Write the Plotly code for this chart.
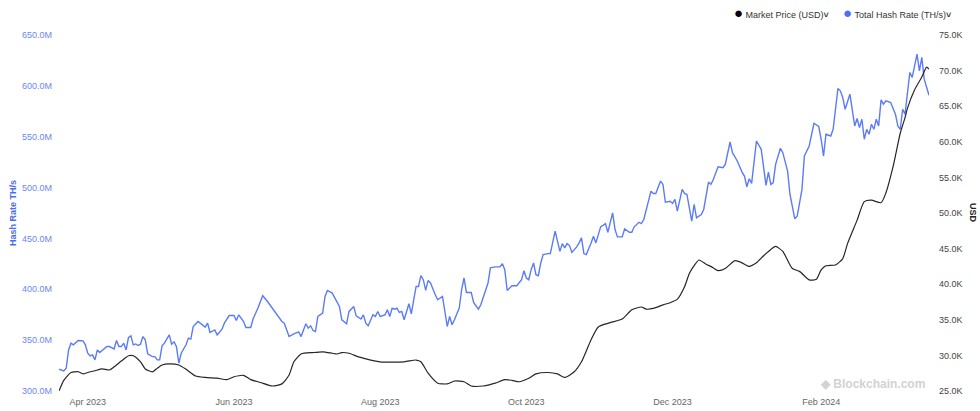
import plotly.graph_objects as go

# ---- data ----
hash_dates = [
    "2023-03-20", "2023-03-22", "2023-03-23", "2023-03-24", "2023-03-25", "2023-03-26", "2023-03-28",
    "2023-03-30", "2023-03-31", "2023-04-01", "2023-04-02", "2023-04-03", "2023-04-04", "2023-04-05",
    "2023-04-06", "2023-04-07", "2023-04-09", "2023-04-10", "2023-04-12", "2023-04-13", "2023-04-14",
    "2023-04-15", "2023-04-16", "2023-04-17", "2023-04-18", "2023-04-19", "2023-04-20", "2023-04-21",
    "2023-04-22", "2023-04-23", "2023-04-24", "2023-04-25", "2023-04-26", "2023-04-28", "2023-04-29",
    "2023-04-30", "2023-05-01", "2023-05-02", "2023-05-03", "2023-05-05", "2023-05-06", "2023-05-07",
    "2023-05-08", "2023-05-09", "2023-05-10", "2023-05-12", "2023-05-13", "2023-05-14", "2023-05-15",
    "2023-05-17", "2023-05-19", "2023-05-20", "2023-05-21", "2023-05-22", "2023-05-24", "2023-05-25",
    "2023-05-27", "2023-05-28", "2023-05-30", "2023-06-01", "2023-06-02", "2023-06-03", "2023-06-05",
    "2023-06-06", "2023-06-08", "2023-06-09", "2023-06-11", "2023-06-13", "2023-06-15", "2023-06-18",
    "2023-06-21", "2023-06-22", "2023-06-24", "2023-06-26", "2023-06-28", "2023-06-29", "2023-07-01",
    "2023-07-02", "2023-07-03", "2023-07-04", "2023-07-05", "2023-07-06", "2023-07-08", "2023-07-09",
    "2023-07-10", "2023-07-12", "2023-07-15", "2023-07-16", "2023-07-18", "2023-07-19", "2023-07-21",
    "2023-07-22", "2023-07-24", "2023-07-25", "2023-07-26", "2023-07-27", "2023-07-29", "2023-07-30",
    "2023-07-31", "2023-08-01", "2023-08-03", "2023-08-04", "2023-08-05", "2023-08-06", "2023-08-07",
    "2023-08-08", "2023-08-09", "2023-08-10", "2023-08-11", "2023-08-13", "2023-08-14", "2023-08-15",
    "2023-08-16", "2023-08-17", "2023-08-18", "2023-08-19", "2023-08-20", "2023-08-21", "2023-08-22",
    "2023-08-24", "2023-08-25", "2023-08-27", "2023-08-28", "2023-08-29", "2023-08-30", "2023-08-31",
    "2023-09-01", "2023-09-03", "2023-09-04", "2023-09-05", "2023-09-06", "2023-09-08", "2023-09-09",
    "2023-09-11", "2023-09-12", "2023-09-14", "2023-09-15", "2023-09-16", "2023-09-18", "2023-09-20",
    "2023-09-21", "2023-09-22", "2023-09-23", "2023-09-25", "2023-09-27", "2023-09-29", "2023-09-30",
    "2023-10-01", "2023-10-02", "2023-10-03", "2023-10-04", "2023-10-05", "2023-10-06", "2023-10-07",
    "2023-10-08", "2023-10-10", "2023-10-11", "2023-10-13", "2023-10-15", "2023-10-16", "2023-10-17",
    "2023-10-18", "2023-10-19", "2023-10-20", "2023-10-22", "2023-10-23", "2023-10-24", "2023-10-25",
    "2023-10-26", "2023-10-28", "2023-10-29", "2023-10-30", "2023-11-01", "2023-11-03", "2023-11-04",
    "2023-11-06", "2023-11-07", "2023-11-08", "2023-11-10", "2023-11-11", "2023-11-13", "2023-11-14",
    "2023-11-15", "2023-11-17", "2023-11-18", "2023-11-19", "2023-11-22", "2023-11-23", "2023-11-24",
    "2023-11-26", "2023-11-27", "2023-11-28", "2023-11-30", "2023-12-01", "2023-12-02", "2023-12-03",
    "2023-12-05", "2023-12-06", "2023-12-07", "2023-12-09", "2023-12-10", "2023-12-11", "2023-12-13",
    "2023-12-14", "2023-12-16", "2023-12-17", "2023-12-18", "2023-12-20", "2023-12-22", "2023-12-23",
    "2023-12-25", "2023-12-26", "2023-12-28", "2023-12-30", "2023-12-31", "2024-01-01", "2024-01-02",
    "2024-01-03", "2024-01-05", "2024-01-07", "2024-01-08", "2024-01-09", "2024-01-10", "2024-01-11",
    "2024-01-12", "2024-01-13", "2024-01-15", "2024-01-16", "2024-01-18", "2024-01-19", "2024-01-21",
    "2024-01-22", "2024-01-24", "2024-01-25", "2024-01-27", "2024-01-29", "2024-01-31", "2024-02-01",
    "2024-02-02", "2024-02-03", "2024-02-05", "2024-02-06", "2024-02-08", "2024-02-09", "2024-02-10",
    "2024-02-11", "2024-02-13", "2024-02-14", "2024-02-15", "2024-02-16", "2024-02-17", "2024-02-18",
    "2024-02-19", "2024-02-20", "2024-02-21", "2024-02-22", "2024-02-23", "2024-02-24", "2024-02-25",
    "2024-02-26", "2024-02-27", "2024-02-28", "2024-03-01", "2024-03-03", "2024-03-04", "2024-03-05",
    "2024-03-06", "2024-03-07", "2024-03-08", "2024-03-09", "2024-03-10", "2024-03-12", "2024-03-13",
    "2024-03-14", "2024-03-15", "2024-03-17",
]
hash_rate_M = [
    321.4, 319.7, 322.4, 340.4, 347.0, 345.4, 349.6,
    349.3, 345.4, 337.2, 334.5, 335.5, 330.6, 340.4,
    337.8, 339.7, 343.7, 343.7, 341.4, 349.6, 343.7,
    343.7, 347.0, 340.4, 352.6, 354.2, 345.4, 346.3,
    344.7, 346.0, 353.5, 350.3, 336.5, 333.8, 333.8,
    330.6, 330.6, 344.4, 347.0, 355.2, 346.0, 348.3,
    343.7, 327.3, 337.2, 345.4, 352.0, 351.0, 363.4,
    368.3, 364.1, 362.8, 366.7, 357.5, 360.1, 355.2,
    360.8, 366.7, 374.2, 374.2, 369.3, 374.9, 368.3,
    362.4, 362.4, 371.0, 381.5, 393.7, 388.0, 378.2,
    368.3, 366.7, 353.5, 356.2, 358.2, 353.5, 366.1,
    361.8, 364.1, 359.5, 358.5, 373.3, 376.6, 393.0,
    398.9, 396.3, 383.1, 370.0, 366.1, 378.2, 383.0,
    373.9, 370.7, 374.9, 366.7, 364.1, 374.9, 373.3,
    378.2, 373.3, 374.9, 379.9, 373.3, 381.5, 380.5,
    381.5, 377.2, 378.2, 370.0, 385.8, 375.9, 389.7,
    402.8, 402.8, 413.4, 409.4, 398.9, 408.7, 406.2,
    394.6, 389.7, 393.0, 376.6, 363.4, 373.3, 365.1,
    370.0, 381.5, 399.6, 411.1, 396.9, 396.9, 387.1,
    380.5, 384.8, 397.9, 406.2, 421.0, 422.0, 422.0,
    425.2, 419.3, 398.9, 403.5, 403.5, 409.4, 418.3,
    411.1, 409.4, 419.3, 425.9, 414.4, 413.4, 425.9,
    434.1, 435.1, 435.1, 457.1, 437.3, 444.9, 440.7,
    444.9, 443.0, 436.3, 441.7, 445.6, 450.5, 435.1,
    434.1, 445.6, 452.1, 445.6, 461.4, 464.6, 456.1,
    475.2, 458.7, 451.5, 451.5, 459.4, 456.1, 456.1,
    461.4, 465.9, 464.6, 468.6, 496.5, 494.2, 494.2,
    506.4, 503.1, 485.6, 486.6, 484.4, 488.3, 476.8,
    498.2, 494.2, 493.2, 466.9, 483.4, 470.3, 473.5,
    478.5, 505.4, 503.1, 508.0, 520.5, 519.6, 522.8,
    544.8, 534.3, 526.1, 515.2, 511.3, 500.8, 508.7,
    504.1, 545.8, 537.6, 519.6, 502.1, 515.2, 503.1,
    504.8, 522.8, 538.6, 534.3, 516.2, 493.2, 469.3,
    471.8, 498.2, 531.0, 540.9, 563.2, 560.0, 547.5,
    531.0, 552.4, 550.7, 557.3, 597.4, 595.1, 588.6,
    577.0, 591.8, 575.4, 560.6, 567.9, 559.0, 567.2,
    547.5, 557.3, 552.4, 562.3, 557.3, 567.2, 560.6,
    586.2, 582.0, 585.2, 583.6, 572.1, 560.6, 557.3,
    577.0, 572.1, 593.5, 613.2, 608.3, 631.3, 614.8,
    628.0, 606.6, 590.8,
]

price_dates = [
    "2023-03-20", "2023-03-22", "2023-03-25", "2023-03-28", "2023-03-30", "2023-04-01", "2023-04-04",
    "2023-04-07", "2023-04-10", "2023-04-12", "2023-04-15", "2023-04-18", "2023-04-20", "2023-04-23",
    "2023-04-25", "2023-04-28", "2023-04-30", "2023-05-02", "2023-05-05", "2023-05-09", "2023-05-12",
    "2023-05-16", "2023-05-20", "2023-05-25", "2023-05-29", "2023-06-01", "2023-06-05", "2023-06-08",
    "2023-06-12", "2023-06-17", "2023-06-21", "2023-06-24", "2023-06-26", "2023-06-29", "2023-07-04",
    "2023-07-08", "2023-07-12", "2023-07-14", "2023-07-16", "2023-07-19", "2023-07-23", "2023-08-01",
    "2023-08-11", "2023-08-16", "2023-08-18", "2023-08-21", "2023-08-25", "2023-08-29", "2023-09-01",
    "2023-09-05", "2023-09-08", "2023-09-13", "2023-09-18", "2023-09-22", "2023-09-25", "2023-09-28",
    "2023-10-02", "2023-10-05", "2023-10-10", "2023-10-14", "2023-10-17", "2023-10-21", "2023-10-24",
    "2023-10-28", "2023-10-31", "2023-11-05", "2023-11-10", "2023-11-14", "2023-11-18", "2023-11-20",
    "2023-11-23", "2023-11-27", "2023-11-30", "2023-12-03", "2023-12-06", "2023-12-08", "2023-12-10",
    "2023-12-12", "2023-12-15", "2023-12-17", "2023-12-20", "2023-12-23", "2023-12-27", "2023-12-30",
    "2024-01-02", "2024-01-05", "2024-01-08", "2024-01-10", "2024-01-13", "2024-01-16", "2024-01-20",
    "2024-01-23", "2024-01-27", "2024-01-30", "2024-02-01", "2024-02-03", "2024-02-07", "2024-02-10",
    "2024-02-12", "2024-02-16", "2024-02-19", "2024-02-22", "2024-02-26", "2024-02-28", "2024-03-02",
    "2024-03-05", "2024-03-07", "2024-03-08", "2024-03-11", "2024-03-14", "2024-03-16", "2024-03-17",
]
price_K = [
    25.0, 26.5, 27.6, 27.7, 27.4, 27.6, 27.85,
    28.1, 27.95, 28.4, 29.2, 29.95, 29.95, 29.1,
    28.1, 27.7, 28.2, 28.65, 28.8, 28.65, 28.05,
    27.1, 26.9, 26.8, 26.6, 27.0, 27.2, 26.6,
    26.2, 25.7, 26.0, 27.25, 29.1, 30.2, 30.4,
    30.5, 30.3, 30.2, 30.4, 30.3, 29.8, 29.1,
    29.1, 29.35, 29.1, 27.5, 26.1, 26.0, 26.4,
    26.3, 25.7, 25.7, 26.1, 26.6, 26.5, 26.3,
    26.8, 27.4, 27.6, 27.4, 26.9, 27.7, 29.1,
    32.2, 34.0, 34.6, 35.1, 36.4, 36.8, 36.5,
    36.6, 37.1, 37.4, 37.9, 39.65, 41.5, 42.6,
    43.4, 42.8, 42.5, 41.9, 42.2, 43.3, 43.0,
    42.5, 43.0, 44.0, 44.6, 45.3, 44.6, 42.2,
    41.8, 40.6, 40.7, 42.0, 42.6, 42.7, 43.6,
    45.7, 49.0, 51.6, 51.8, 51.45, 52.8, 56.5,
    61.2, 63.4, 64.7, 67.3, 69.1, 70.5, 70.2,
]

left_tick_values = [300, 350, 400, 450, 500, 550, 600, 650]
left_tick_labels = ["300.0M", "350.0M", "400.0M", "450.0M", "500.0M", "550.0M", "600.0M", "650.0M"]
right_tick_values = [25, 30, 35, 40, 45, 50, 55, 60, 65, 70, 75]
right_tick_labels = ["25.0K", "30.0K", "35.0K", "40.0K", "45.0K", "50.0K",
                     "55.0K", "60.0K", "65.0K", "70.0K", "75.0K"]
x_tick_dates = ["2023-04-01", "2023-06-01", "2023-08-01", "2023-10-01", "2023-12-01", "2024-02-01"]
x_tick_labels = ["Apr 2023", "Jun 2023", "Aug 2023", "Oct 2023", "Dec 2023", "Feb 2024"]

HASH_COLOR = "#5b7bf7"
PRICE_COLOR = "#262626"
FONT = "Liberation Sans, Arial, sans-serif"

fig = go.Figure()
fig.add_trace(go.Scatter(
    x=hash_dates, y=hash_rate_M, mode="lines", name="Total Hash Rate (TH/s)",
    line=dict(color=HASH_COLOR, width=1.4), yaxis="y", showlegend=False,
))
fig.add_trace(go.Scatter(
    x=price_dates, y=price_K, mode="lines", name="Market Price (USD)",
    line=dict(color=PRICE_COLOR, width=1.2, shape="spline", smoothing=0.6),
    yaxis="y2", showlegend=False,
))

W, H = 980, 411
L, R, T, B = 59, 51, 35, 20
pw = W - L - R
ph = H - T - B


def px_x(p):
    return (p - L) / pw


def px_y(p):
    return (H - B - p) / ph


fig.update_layout(
    width=W, height=H,
    margin=dict(l=L, r=R, t=T, b=B, pad=0),
    paper_bgcolor="white", plot_bgcolor="white",
    font=dict(family=FONT, size=9, color="#444"),
    xaxis=dict(
        type="date", range=["2023-03-20", "2024-03-17"],
        tickvals=x_tick_dates, ticktext=x_tick_labels,
        showgrid=False, zeroline=False, showline=False, ticks="",
        tickfont=dict(size=9, color="#666"), ticklabelstandoff=4,
        automargin=False,
    ),
    yaxis=dict(
        range=[300, 650], tickvals=left_tick_values, ticktext=left_tick_labels,
        showgrid=False, zeroline=False, showline=False, ticks="",
        tickfont=dict(size=9, color="#6a86f5"), ticklabelstandoff=6,
        automargin=False,
    ),
    yaxis2=dict(
        overlaying="y", side="right",
        range=[25, 75], tickvals=right_tick_values, ticktext=right_tick_labels,
        showgrid=False, zeroline=False, showline=False, ticks="",
        tickfont=dict(size=9, color="#444"), ticklabelstandoff=9,
        automargin=False,
    ),
    showlegend=False,
)

annotations = [
    # axis titles
    dict(text="<b>Hash Rate TH/s</b>", x=px_x(13), y=0.5, xref="paper", yref="paper",
         textangle=-90, showarrow=False, font=dict(size=9, color="#4a6cf0", family=FONT),
         xanchor="center", yanchor="middle"),
    dict(text="<b>USD</b>", x=px_x(973), y=0.5, xref="paper", yref="paper",
         textangle=90, showarrow=False, font=dict(size=9, color="#222", family=FONT),
         xanchor="center", yanchor="middle"),
    # legend
    dict(text='<span style="font-size:15px;color:#000">●</span> Market Price (USD)<b>˅</b>',
         x=px_x(732), y=px_y(13), xref="paper", yref="paper", showarrow=False,
         xanchor="left", yanchor="middle", font=dict(size=9, color="#333", family=FONT)),
    dict(text='<span style="font-size:15px;color:#4f6ff0">●</span> Total Hash Rate (TH/s)<b>˅</b>',
         x=px_x(841), y=px_y(13), xref="paper", yref="paper", showarrow=False,
         xanchor="left", yanchor="middle", font=dict(size=9, color="#333", family=FONT)),
    # watermark
    dict(text="<b>◆ Blockchain.com</b>", x=px_x(927), y=px_y(384), xref="paper", yref="paper",
         showarrow=False, xanchor="right", yanchor="middle",
         font=dict(size=12, color="#d2d2d2", family=FONT)),
]
fig.update_layout(annotations=annotations)

fig.write_html(
    "out.html",
    config={"displayModeBar": False},
    post_script="document.body.style.margin='0px';document.body.style.padding='0px';",
)
